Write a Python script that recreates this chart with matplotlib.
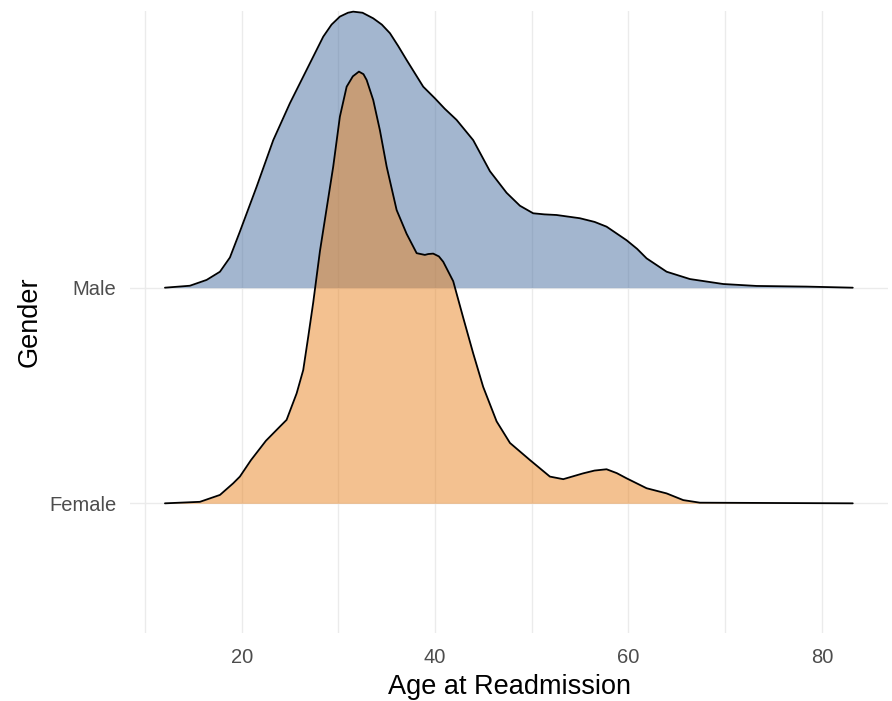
import matplotlib
matplotlib.use("Agg")
import matplotlib.pyplot as plt

# ---------- Data (ridge heights, in y-units) ----------
GENDERS = ["Female", "Male"]

AGE_MALE = [12.07, 14.65, 16.38, 17.76, 18.79, 19.82, 21.55, 23.27, 24.99,
            26.72, 28.44, 29.3, 30.16, 31.0, 31.54, 32.5, 33.61, 34.5, 35.34,
            36.2, 37.06, 38.78, 39.99, 41.0, 42.23, 43.95, 45.68, 47.40, 48.78,
            50.15, 51.3, 52.57, 54.98, 56.5, 57.74, 59.81, 60.9, 61.88, 63.95,
            66.36, 69.80, 73.26, 78.43, 83.2]
DENS_MALE = [0.0, 0.009, 0.036, 0.074, 0.14, 0.26, 0.468, 0.684, 0.855,
             1.010, 1.164, 1.22, 1.257, 1.275, 1.280, 1.275, 1.249, 1.22, 1.180,
             1.12, 1.056, 0.932, 0.878, 0.83, 0.778, 0.684, 0.54, 0.44, 0.38,
             0.345, 0.34, 0.337, 0.322, 0.305, 0.283, 0.220, 0.18, 0.136, 0.074,
             0.040, 0.017, 0.008, 0.005, 0.0]

AGE_FEMALE = [12.07, 15.69, 17.76, 19.13, 19.82, 20.96, 22.51, 23.96, 24.65, 25.69,
              26.37, 26.89, 27.40, 28.10, 29.47, 30.16, 30.86, 31.5, 32.13,
              32.6, 32.93, 33.61, 34.30, 35.00, 36.03, 37.06, 38.10, 38.95, 39.3,
              39.81, 40.4, 40.85, 41.88, 42.92, 43.95, 44.98, 46.37, 47.75, 49.81,
              51.88, 53.26, 55.32, 56.5, 57.74, 58.8, 59.81, 61.88, 63.95, 65.67,
              67.39, 83.2]
DENS_FEMALE = [0.0, 0.007, 0.039, 0.093, 0.124, 0.20, 0.29, 0.356, 0.387, 0.510,
               0.618, 0.773, 0.93, 1.17, 1.561, 1.793, 1.932, 1.98, 2.002,
               1.99, 1.963, 1.870, 1.730, 1.561, 1.36, 1.25, 1.16, 1.152, 1.156,
               1.158, 1.145, 1.12, 1.03, 0.86, 0.695, 0.54, 0.38, 0.28, 0.201,
               0.124, 0.112, 0.139, 0.152, 0.158, 0.14, 0.116, 0.070, 0.046, 0.015,
               0.003, 0.0]

X_TICKS = [20, 40, 60, 80]
X_MINOR = [10, 30, 50, 70]

COLORS = {"Male": "#496FA1", "Female": "#E98523"}
GRID = "#EBEBEB"
TXT = "#4D4D4D"

plt.rcParams["font.family"] = ["Liberation Sans", "DejaVu Sans"]

fig = plt.figure(figsize=(8.92, 7.01), dpi=100)
ax = fig.add_axes([0.146, 0.0974, 0.8498, 0.8869])

# grid (theme_minimal style)
for x in X_TICKS + X_MINOR:
    ax.axvline(x, color=GRID, lw=1.0, zorder=0)
for y in range(1, len(GENDERS) + 1):
    ax.axhline(y, color=GRID, lw=1.0, zorder=0)

# ridges: top one first, lower one drawn on top
ridges = [("Male", AGE_MALE, DENS_MALE), ("Female", AGE_FEMALE, DENS_FEMALE)]
for i, (name, ages, dens) in enumerate(ridges):
    base = GENDERS.index(name) + 1
    top = [base + d for d in dens]
    ax.fill_between(ages, base, top, color=COLORS[name], alpha=0.5,
                    linewidth=0, zorder=2 + i)
    ax.plot(ages, top, color="black", lw=1.3, zorder=2 + i, clip_on=False,
            solid_joinstyle="round", solid_capstyle="round")

ax.set_xlim(8.48, 86.87)
ax.set_ylim(0.400, 3.283)
ax.set_xticks(X_TICKS)
ax.set_yticks([1, 2])
ax.set_yticklabels(GENDERS)
ax.tick_params(axis="both", length=0, labelsize=14.5, labelcolor=TXT)
ax.tick_params(axis="x", pad=11)
ax.tick_params(axis="y", pad=10)
for s in ax.spines.values():
    s.set_visible(False)

ax.set_xlabel("Age at Readmission", fontsize=19.5, color="black", labelpad=5)
ax.set_ylabel("Gender", fontsize=19.5, color="black", labelpad=5)

fig.savefig("out.png", dpi=100, facecolor="white")
